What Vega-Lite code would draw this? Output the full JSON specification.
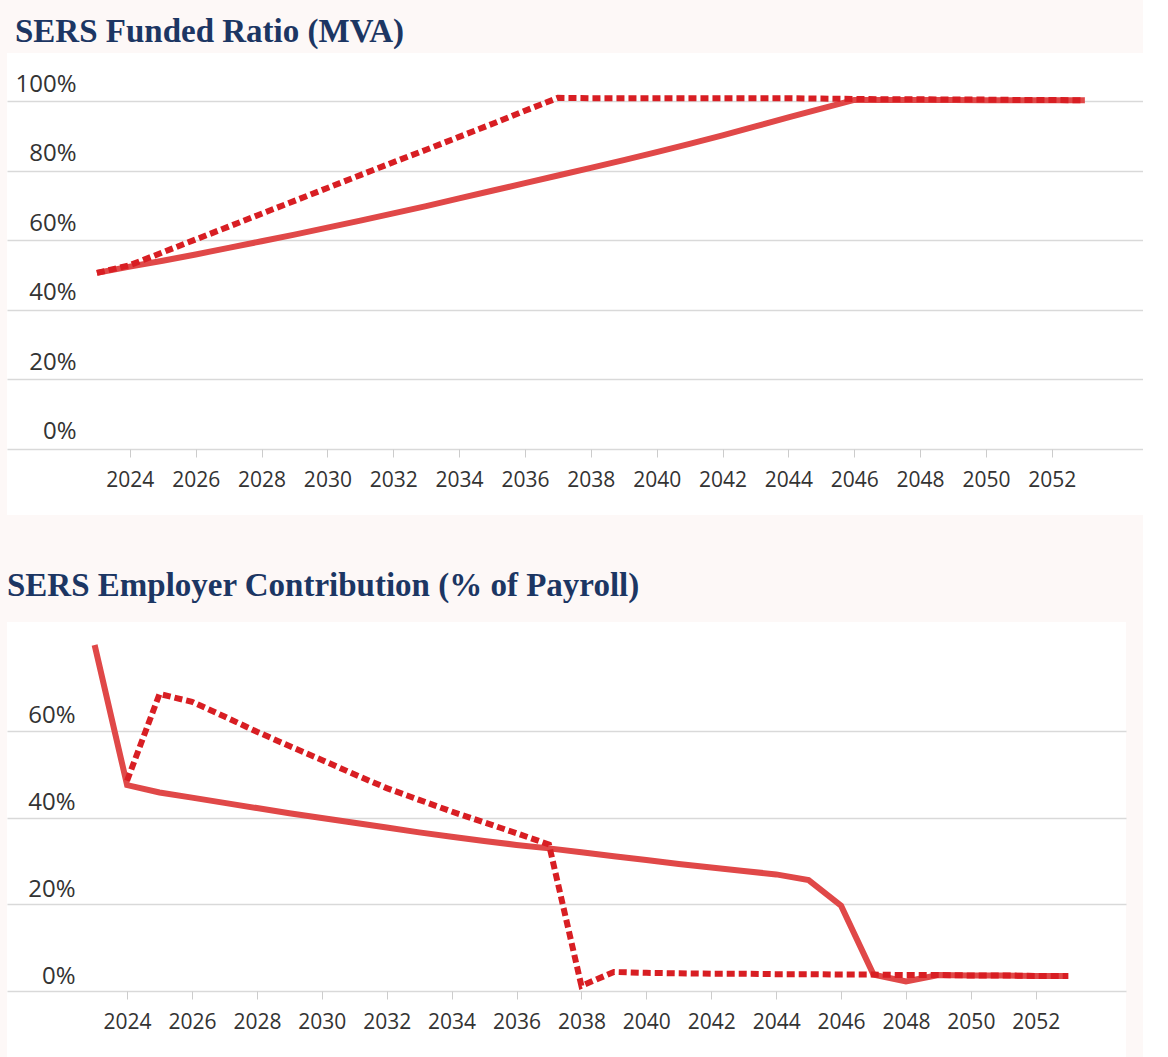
{
  "$schema": "https://vega.github.io/schema/vega-lite/v6.json",
  "background": "#fdf8f7",
  "padding": {"left": 7, "top": 16, "right": 0, "bottom": 0},
  "spacing": 55,
  "config": {
    "view": {"fill": "white", "stroke": null},
    "title": {"anchor": "start", "font": "Liberation Serif", "fontWeight": "bold", "fontSize": 33, "color": "#1c3663", "baseline": "alphabetic"},
    "axis": {"labelFont": "Open Sans", "labelColor": "#333333"}
  },
  "datasets": {
    "funded": [
      {"year": 2023, "scenario": "current", "value": 50.6},
      {"year": 2024, "scenario": "current", "value": 52.4},
      {"year": 2025, "scenario": "current", "value": 54.1},
      {"year": 2026, "scenario": "current", "value": 55.9},
      {"year": 2027, "scenario": "current", "value": 57.8},
      {"year": 2028, "scenario": "current", "value": 59.7},
      {"year": 2029, "scenario": "current", "value": 61.6},
      {"year": 2030, "scenario": "current", "value": 63.6},
      {"year": 2031, "scenario": "current", "value": 65.6},
      {"year": 2032, "scenario": "current", "value": 67.7},
      {"year": 2033, "scenario": "current", "value": 69.8},
      {"year": 2034, "scenario": "current", "value": 72.0},
      {"year": 2035, "scenario": "current", "value": 74.2},
      {"year": 2036, "scenario": "current", "value": 76.4},
      {"year": 2037, "scenario": "current", "value": 78.6},
      {"year": 2038, "scenario": "current", "value": 80.8},
      {"year": 2039, "scenario": "current", "value": 83.0},
      {"year": 2040, "scenario": "current", "value": 85.3},
      {"year": 2041, "scenario": "current", "value": 87.7},
      {"year": 2042, "scenario": "current", "value": 90.1},
      {"year": 2043, "scenario": "current", "value": 92.7},
      {"year": 2044, "scenario": "current", "value": 95.3},
      {"year": 2045, "scenario": "current", "value": 97.8},
      {"year": 2046, "scenario": "current", "value": 100.3},
      {"year": 2047, "scenario": "current", "value": 100.3},
      {"year": 2048, "scenario": "current", "value": 100.3},
      {"year": 2049, "scenario": "current", "value": 100.3},
      {"year": 2050, "scenario": "current", "value": 100.2},
      {"year": 2051, "scenario": "current", "value": 100.2},
      {"year": 2052, "scenario": "current", "value": 100.2},
      {"year": 2053, "scenario": "current", "value": 100.2},
      {"year": 2023, "scenario": "alternative", "value": 50.6},
      {"year": 2024, "scenario": "alternative", "value": 52.8},
      {"year": 2025, "scenario": "alternative", "value": 56.5},
      {"year": 2026, "scenario": "alternative", "value": 60.2},
      {"year": 2027, "scenario": "alternative", "value": 63.9},
      {"year": 2028, "scenario": "alternative", "value": 67.6},
      {"year": 2029, "scenario": "alternative", "value": 71.3},
      {"year": 2030, "scenario": "alternative", "value": 75.0},
      {"year": 2031, "scenario": "alternative", "value": 78.7},
      {"year": 2032, "scenario": "alternative", "value": 82.4},
      {"year": 2033, "scenario": "alternative", "value": 86.0},
      {"year": 2034, "scenario": "alternative", "value": 89.7},
      {"year": 2035, "scenario": "alternative", "value": 93.4},
      {"year": 2036, "scenario": "alternative", "value": 97.2},
      {"year": 2037, "scenario": "alternative", "value": 100.9},
      {"year": 2038, "scenario": "alternative", "value": 100.8},
      {"year": 2039, "scenario": "alternative", "value": 100.8},
      {"year": 2040, "scenario": "alternative", "value": 100.8},
      {"year": 2041, "scenario": "alternative", "value": 100.8},
      {"year": 2042, "scenario": "alternative", "value": 100.8},
      {"year": 2043, "scenario": "alternative", "value": 100.8},
      {"year": 2044, "scenario": "alternative", "value": 100.8},
      {"year": 2045, "scenario": "alternative", "value": 100.7},
      {"year": 2046, "scenario": "alternative", "value": 100.6},
      {"year": 2047, "scenario": "alternative", "value": 100.5},
      {"year": 2048, "scenario": "alternative", "value": 100.5},
      {"year": 2049, "scenario": "alternative", "value": 100.4},
      {"year": 2050, "scenario": "alternative", "value": 100.4},
      {"year": 2051, "scenario": "alternative", "value": 100.3},
      {"year": 2052, "scenario": "alternative", "value": 100.3},
      {"year": 2053, "scenario": "alternative", "value": 100.2}
    ],
    "contrib": [
      {"year": 2023, "scenario": "current", "value": 79.8},
      {"year": 2024, "scenario": "current", "value": 47.5},
      {"year": 2025, "scenario": "current", "value": 45.8},
      {"year": 2026, "scenario": "current", "value": 44.6},
      {"year": 2027, "scenario": "current", "value": 43.4},
      {"year": 2028, "scenario": "current", "value": 42.2},
      {"year": 2029, "scenario": "current", "value": 41.0},
      {"year": 2030, "scenario": "current", "value": 39.9},
      {"year": 2031, "scenario": "current", "value": 38.8},
      {"year": 2032, "scenario": "current", "value": 37.7},
      {"year": 2033, "scenario": "current", "value": 36.6},
      {"year": 2034, "scenario": "current", "value": 35.6},
      {"year": 2035, "scenario": "current", "value": 34.6},
      {"year": 2036, "scenario": "current", "value": 33.7},
      {"year": 2037, "scenario": "current", "value": 32.9},
      {"year": 2038, "scenario": "current", "value": 32.0},
      {"year": 2039, "scenario": "current", "value": 31.1},
      {"year": 2040, "scenario": "current", "value": 30.2},
      {"year": 2041, "scenario": "current", "value": 29.3},
      {"year": 2042, "scenario": "current", "value": 28.5},
      {"year": 2043, "scenario": "current", "value": 27.7},
      {"year": 2044, "scenario": "current", "value": 26.9},
      {"year": 2045, "scenario": "current", "value": 25.6},
      {"year": 2046, "scenario": "current", "value": 19.7},
      {"year": 2047, "scenario": "current", "value": 3.8},
      {"year": 2048, "scenario": "current", "value": 2.2},
      {"year": 2049, "scenario": "current", "value": 3.7},
      {"year": 2050, "scenario": "current", "value": 3.6},
      {"year": 2051, "scenario": "current", "value": 3.6},
      {"year": 2052, "scenario": "current", "value": 3.5},
      {"year": 2053, "scenario": "current", "value": 3.5},
      {"year": 2024, "scenario": "alternative", "value": 48.5},
      {"year": 2025, "scenario": "alternative", "value": 68.5},
      {"year": 2026, "scenario": "alternative", "value": 66.7},
      {"year": 2027, "scenario": "alternative", "value": 63.3},
      {"year": 2028, "scenario": "alternative", "value": 59.8},
      {"year": 2029, "scenario": "alternative", "value": 56.5},
      {"year": 2030, "scenario": "alternative", "value": 53.3},
      {"year": 2031, "scenario": "alternative", "value": 50.0},
      {"year": 2032, "scenario": "alternative", "value": 46.8},
      {"year": 2033, "scenario": "alternative", "value": 44.1},
      {"year": 2034, "scenario": "alternative", "value": 41.4},
      {"year": 2035, "scenario": "alternative", "value": 38.9},
      {"year": 2036, "scenario": "alternative", "value": 36.4},
      {"year": 2037, "scenario": "alternative", "value": 33.8},
      {"year": 2038, "scenario": "alternative", "value": 1.2},
      {"year": 2039, "scenario": "alternative", "value": 4.4},
      {"year": 2040, "scenario": "alternative", "value": 4.2},
      {"year": 2041, "scenario": "alternative", "value": 4.1},
      {"year": 2042, "scenario": "alternative", "value": 4.0},
      {"year": 2043, "scenario": "alternative", "value": 4.0},
      {"year": 2044, "scenario": "alternative", "value": 3.9},
      {"year": 2045, "scenario": "alternative", "value": 3.9},
      {"year": 2046, "scenario": "alternative", "value": 3.8},
      {"year": 2047, "scenario": "alternative", "value": 3.8},
      {"year": 2048, "scenario": "alternative", "value": 3.7},
      {"year": 2049, "scenario": "alternative", "value": 3.7},
      {"year": 2050, "scenario": "alternative", "value": 3.6},
      {"year": 2051, "scenario": "alternative", "value": 3.6},
      {"year": 2052, "scenario": "alternative", "value": 3.5},
      {"year": 2053, "scenario": "alternative", "value": 3.5}
    ]
  },
  "vconcat": [
    {
      "title": {"text": "SERS Funded Ratio (MVA)", "dx": 8, "offset": 4},
      "width": 1136,
      "height": 462,
      "data": {"name": "funded"},
      "encoding": {
        "x": {
          "field": "year", "type": "quantitative", "title": null,
          "scale": {"domain": [2020.27, 2054.77], "nice": false, "zero": false},
          "axis": {"values": [2024, 2026, 2028, 2030, 2032, 2034, 2036, 2038, 2040, 2042, 2044, 2046, 2048, 2050, 2052], "format": "d", "offset": -66, "domain": false, "grid": false, "tickColor": "#cccccc", "tickSize": 8, "tickWidth": 1, "labelFontSize": 21, "labelPadding": 12}
        },
        "y": {
          "field": "value", "type": "quantitative", "title": null,
          "scale": {"domain": [-19, 113.8], "nice": false, "zero": false},
          "axis": {"values": [0, 20, 40, 60, 80, 100], "labelExpr": "datum.value + '%'", "domain": false, "ticks": false, "grid": true, "gridColor": "#d9d9d9", "gridWidth": 1.5, "labelAlign": "right", "labelBaseline": "middle", "labelPadding": -69, "labelOffset": -17, "labelFontSize": 24}
        }
      },
      "layer": [
        {"transform": [{"filter": "datum.scenario === 'current'"}], "mark": {"type": "line", "color": "#e04848", "strokeWidth": 6}},
        {"transform": [{"filter": "datum.scenario === 'alternative'"}], "mark": {"type": "line", "color": "#d81e23", "strokeWidth": 6, "strokeDash": [8, 4]}}
      ]
    },
    {
      "title": {"text": "SERS Employer Contribution (% of Payroll)", "dx": 0, "offset": 19},
      "width": 1119,
      "height": 435,
      "data": {"name": "contrib"},
      "encoding": {
        "x": {
          "field": "year", "type": "quantitative", "title": null,
          "scale": {"domain": [2020.3, 2054.78], "nice": false, "zero": false},
          "axis": {"values": [2024, 2026, 2028, 2030, 2032, 2034, 2036, 2038, 2040, 2042, 2044, 2046, 2048, 2050, 2052], "format": "d", "offset": -66, "domain": false, "grid": false, "tickColor": "#cccccc", "tickSize": 8, "tickWidth": 1, "labelFontSize": 21, "labelPadding": 12}
        },
        "y": {
          "field": "value", "type": "quantitative", "title": null,
          "scale": {"domain": [-15.2, 85.1], "nice": false, "zero": false},
          "axis": {"values": [0, 20, 40, 60], "labelExpr": "datum.value + '%'", "domain": false, "ticks": false, "grid": true, "gridColor": "#d9d9d9", "gridWidth": 1.5, "labelAlign": "right", "labelBaseline": "middle", "labelPadding": -68, "labelOffset": -15, "labelFontSize": 24}
        }
      },
      "layer": [
        {"transform": [{"filter": "datum.scenario === 'current'"}], "mark": {"type": "line", "color": "#e04848", "strokeWidth": 6}},
        {"transform": [{"filter": "datum.scenario === 'alternative'"}], "mark": {"type": "line", "color": "#d81e23", "strokeWidth": 6, "strokeDash": [8, 4]}}
      ]
    }
  ]
}
